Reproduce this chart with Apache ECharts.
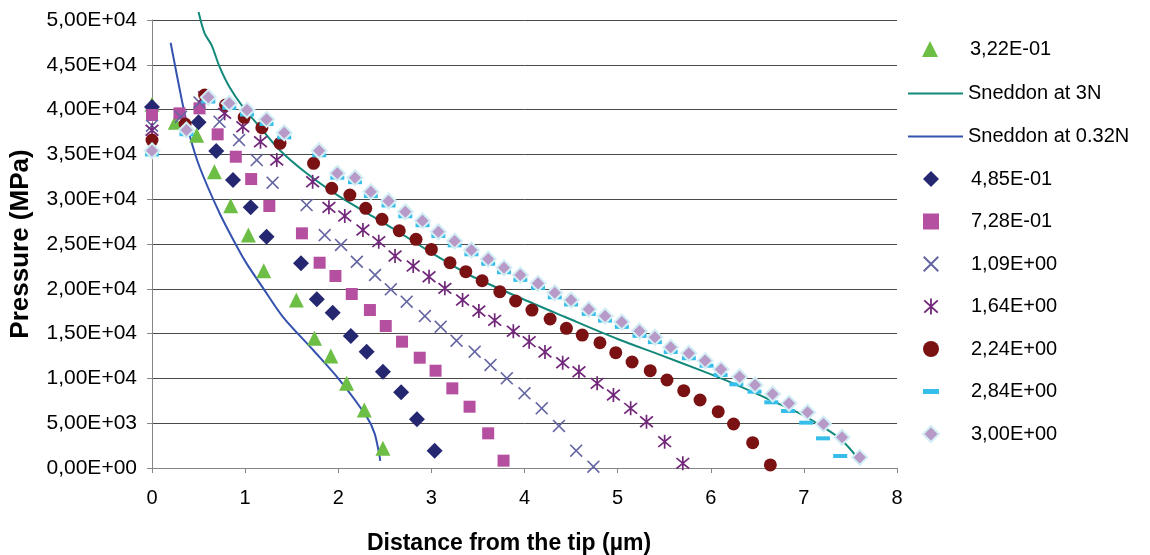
<!DOCTYPE html>
<html><head><meta charset="utf-8">
<script src="https://cdn.jsdelivr.net/npm/echarts@6/dist/echarts.min.js"></script>
<style>html,body{margin:0;padding:0;background:#fff}#c{width:1150px;height:555px}</style>
</head><body><div id="c"></div>
<script>
// ---------- data ----------
const yTickLabels = ['0,00E+00','5,00E+03','1,00E+04','1,50E+04','2,00E+04','2,50E+04','3,00E+04','3,50E+04','4,00E+04','4,50E+04','5,00E+04'];
const xTickLabels = ['0','1','2','3','4','5','6','7','8'];

const s322 = [[0,40600],[0.25,38600],[0.48,37150],[0.67,33070],[0.845,29270],[1.035,26000],[1.2,22020],[1.55,18750],[1.745,14470],[1.92,12500],[2.09,9450],[2.28,6470],[2.48,2200]];
const sneddon3 = [[0.5,50900],[0.565,48510],[0.64,47200],[0.725,44790],[0.83,42550],[0.975,40320],[1.155,38090],[1.37,35490],[1.66,32890],[2.015,30280],[2.375,28050],[2.73,25810],[3.05,23700],[3.41,21540],[3.95,19000],[4.43,16880],[5.0,14400],[5.45,12650],[5.88,10950],[6.24,9450],[6.6,7780],[6.955,6100],[7.17,4800],[7.385,3310],[7.49,2200],[7.55,1450]];
const sneddon032 = [[0.2,47460],[0.32,41070],[0.4,37300],[0.51,33620],[0.725,28460],[0.92,24550],[1.015,22840],[1.195,20050],[1.405,16880],[1.73,13170],[2.015,9820],[2.305,5730],[2.39,3870],[2.445,1260],[2.45,800]];
const s485 = [[0,40300],[0.5,38600],[0.69,35380],[0.87,32140],[1.06,29090],[1.23,25810],[1.6,22840],[1.77,18830],[1.94,17340],[2.135,14730],[2.305,12980],[2.48,10750],[2.675,8450],[2.845,5430],[3.035,1930]];
const s728 = [[0,39400],[0.295,39580],[0.51,40140],[0.705,37240],[0.9,34740],[1.065,32250],[1.26,29240],[1.61,26190],[1.8,22910],[1.97,21430],[2.145,19420],[2.34,17630],[2.51,15850],[2.685,14100],[2.875,12310],[3.045,10860],[3.225,8890],[3.41,6840],[3.61,3870],[3.775,820]];
const s109 = [[0,38200],[0.31,39200],[0.51,40800],[0.725,38650],[0.935,36600],[1.125,34370],[1.295,31840],[1.66,29350],[1.855,26000],[2.03,24890],[2.2,23020],[2.395,21540],[2.565,19940],[2.735,18560],[2.93,16960],[3.1,15770],[3.27,14210],[3.465,12980],[3.635,11500],[3.81,10010],[4.0,8340],[4.185,6660],[4.37,4690],[4.555,1930],[4.74,150]];
const s164 = [[0,37700],[0.565,41440],[0.78,39580],[0.975,38090],[1.165,36420],[1.34,34370],[1.725,31950],[1.9,29090],[2.07,28120],[2.265,26560],[2.435,25260],[2.61,23660],[2.805,22540],[2.975,21350],[3.145,20050],[3.335,18750],[3.51,17530],[3.68,16480],[3.88,15260],[4.05,14100],[4.22,12950],[4.41,11750],[4.585,10750],[4.78,9450],[4.955,8150],[5.14,6660],[5.31,5170],[5.505,2940],[5.70,520]];
const s224 = [[0,36600],[0.355,38390],[0.565,41630],[0.79,40510],[0.99,39140],[1.18,37980],[1.375,36240],[1.735,34000],[1.93,31210],[2.125,30470],[2.295,28980],[2.47,27750],[2.655,26480],[2.835,25520],[3.0,24400],[3.2,22910],[3.37,21910],[3.545,20900],[3.735,19680],[3.905,18640],[4.08,17630],[4.275,16630],[4.45,15590],[4.62,14840],[4.81,13980],[4.98,12870],[5.155,11830],[5.35,10860],[5.53,9820],[5.71,8630],[5.885,7590],[6.08,6290],[6.245,4910],[6.45,2830],[6.64,340]];
const s284 = [[0,35000],[0.37,37250],[0.605,40900],[0.83,40200],[1.02,39450],[1.23,38400],[1.42,36900],[1.795,34900],[1.99,32400],[2.18,31900],[2.35,30350],[2.54,29300],[2.72,28100],[2.905,27100],[3.075,25900],[3.25,24850],[3.43,23850],[3.61,22800],[3.78,21850],[3.955,21000],[4.145,20100],[4.325,19050],[4.5,18250],[4.69,17200],[4.865,16450],[5.045,15750],[5.235,14750],[5.4,14050],[5.57,12950],[5.765,12250],[5.955,11420],[6.105,10380],[6.275,9340],[6.47,8520],[6.65,7330],[6.83,6360],[7.025,5060],[7.205,3310],[7.39,1340]];
const s300 = [[0,35400],[0.37,37720],[0.605,41370],[0.83,40700],[1.02,39950],[1.23,38910],[1.42,37420],[1.795,35410],[1.99,32890],[2.18,32400],[2.35,30840],[2.54,29800],[2.72,28600],[2.905,27600],[3.075,26370],[3.25,25330],[3.43,24330],[3.61,23320],[3.78,22350],[3.955,21540],[4.145,20610],[4.325,19560],[4.5,18750],[4.69,17710],[4.865,16960],[5.045,16290],[5.235,15290],[5.4,14590],[5.57,13470],[5.765,12800],[5.94,11980],[6.11,11010],[6.31,10190],[6.475,9260],[6.665,8260],[6.84,7220],[7.04,6220],[7.21,4910],[7.41,3430],[7.6,1190]];

// ---------- styling ----------
const FONT = 'Liberation Sans, Arial, sans-serif';
const X_PATH = 'path://M0,1.4L1.4,0L8,6.6L14.6,0L16,1.4L9.4,8L16,14.6L14.6,16L8,9.4L1.4,16L0,14.6L6.6,8Z';
const STAR_PATH = 'path://M7.1,0L8.9,0L8.9,16L7.1,16Z M0.6,2.6L1.9,1.2L15.4,13.4L14.1,14.8Z M14.1,1.2L15.4,2.6L1.9,14.8L0.6,13.4Z';
const DASH_PATH = 'path://M0,0L16,0L16,5L0,5Z';
const LINE_ICON = 'path://M0,0L55,0L55,2L0,2Z';

function scatter(name, data, symbol, size, itemStyle) {
  return { name, type: 'scatter', data, symbol, symbolSize: size,
    itemStyle: Object.assign({ opacity: 1 }, itemStyle), clip: false, z: 3, emphasis: { disabled: true } };
}
function line(name, data, color) {
  return { name, type: 'line', data, symbol: 'none', smooth: 0.3, clip: false, z: 2,
    lineStyle: { color, width: 2 }, itemStyle: { color }, emphasis: { disabled: true } };
}

const series = [
  scatter('3,22E-01', s322, 'triangle', 15, { color: '#6DBE45' }),
  line('Sneddon at 3N', sneddon3, '#12897A'),
  line('Sneddon at 0.32N', sneddon032, '#3553AE'),
  scatter('4,85E-01', s485, 'diamond', 16, { color: '#252770' }),
  scatter('7,28E-01', s728, 'rect', 12, { color: '#B54FA0' }),
  scatter('1,09E+00', s109, X_PATH, 13, { color: '#6465A2' }),
  scatter('1,64E+00', s164, STAR_PATH, 14, { color: '#72287A' }),
  scatter('2,24E+00', s224, 'circle', 13, { color: '#7A1214' }),
  scatter('2,84E+00', s284, DASH_PATH, [14, 4], { color: '#36BEEA' }),
  scatter('3,00E+00', s300, 'diamond', 15, { color: '#B89AC8', borderColor: '#D2EEF4', borderWidth: 2 })
];

const legendText = { fontFamily: FONT, fontSize: 20, color: '#000', padding: [0, 0, 0, 27] };
const legendBase = { orient: 'vertical', padding: 0, itemGap: 23, symbolKeepAspect: true, selectedMode: false };

const chart = echarts.init(document.getElementById('c'), null, { renderer: 'canvas' });
chart.setOption({
  animation: false,
  backgroundColor: '#fff',
  textStyle: { fontFamily: FONT },
  grid: { left: 152, right: 253, top: 20, bottom: 87, containLabel: false, outerBoundsMode: 'none' },
  xAxis: {
    type: 'value', min: 0, max: 8, interval: 1,
    name: 'Distance from the tip (\u00b5m)', nameLocation: 'middle', nameGap: 64,
    nameTextStyle: { fontFamily: FONT, fontSize: 23, fontWeight: 'bold', color: '#000', padding: [0, 31, 0, 0] },
    axisLine: { show: true, lineStyle: { color: '#868686', width: 1 } },
    axisTick: { show: true, length: 5, lineStyle: { color: '#868686' } },
    splitLine: { show: false },
    axisLabel: { fontFamily: FONT, fontSize: 20, color: '#000', margin: 20,
      formatter: (v) => xTickLabels[Math.round(v)] }
  },
  yAxis: {
    type: 'value', min: 0, max: 50000, interval: 5000,
    name: 'Pressure (MPa)', nameLocation: 'middle', nameGap: 118,
    nameTextStyle: { fontFamily: FONT, fontSize: 26, fontWeight: 'bold', color: '#000' },
    axisLine: { show: true, lineStyle: { color: '#868686', width: 1 } },
    axisTick: { show: true, length: 5, lineStyle: { color: '#868686' } },
    splitLine: { show: true, lineStyle: { color: '#4a4a4a', width: 1 } },
    axisLabel: { fontFamily: FONT, fontSize: 21, color: '#000', margin: 15,
      formatter: (v) => yTickLabels[Math.round(v / 5000)] }
  },
  legend: [
    Object.assign({}, legendBase, { left: 922, top: 39, itemWidth: 16, itemHeight: 16, data: ['3,22E-01'], textStyle: legendText }),
    Object.assign({}, legendBase, { left: 908, top: 83.5, itemWidth: 55, itemHeight: 16,
      data: [{ name: 'Sneddon at 3N', icon: LINE_ICON }, { name: 'Sneddon at 0.32N', icon: LINE_ICON }],
      textStyle: { fontFamily: FONT, fontSize: 20, color: '#000' } }),
    Object.assign({}, legendBase, { left: 922, top: 169, itemWidth: 16, itemHeight: 16, itemGap: 22.5,
      data: ['4,85E-01', '7,28E-01', '1,09E+00', '1,64E+00', '2,24E+00', { name: '2,84E+00', icon: DASH_PATH }, '3,00E+00'],
      textStyle: legendText })
  ],
  series
});
</script>
</body></html>
